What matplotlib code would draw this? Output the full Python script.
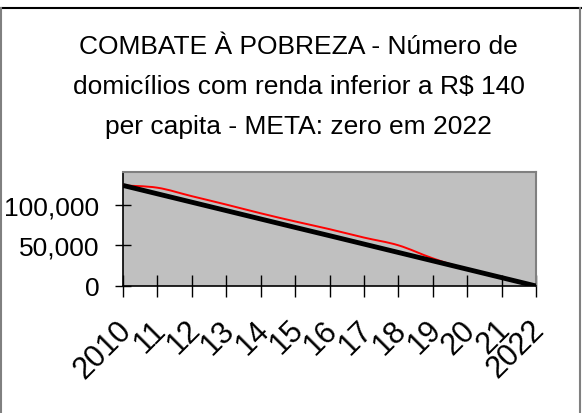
import matplotlib
matplotlib.use("Agg")
import matplotlib.pyplot as plt
from matplotlib.path import Path
from matplotlib.patches import PathPatch
from matplotlib.lines import Line2D
import matplotlib.transforms as mtransforms
import numpy as np

plt.rcParams['font.family'] = ['Liberation Sans', 'DejaVu Sans']

anos = ["2010", "11", "12", "13", "14", "15", "16", "17", "18", "19", "20", "21", "2022"]
# domicilios com renda inferior a R$ 140 per capita (realizado)
realizado = [123500, 120700, 110300, 100000, 89300, 79300, 69800, 59500, 50000, 34000, 20600, 10300, 0]
# meta: trajetoria ate zero em 2022
meta = [123500, 113200, 102900, 92600, 82300, 72000, 61800, 51500, 41200, 30900, 20600, 10300, 0]
titulo = "COMBATE À POBREZA - Número de\ndomicílios com renda inferior a R$ 140\nper capita - META: zero em 2022"


def smooth_path(xs, ys):
    # excel-like smoothed line: cubic bezier segments through the points
    xs = np.asarray(xs, float)
    ys = np.asarray(ys, float)
    n = len(xs)
    verts = [(xs[0], ys[0])]
    codes = [Path.MOVETO]
    for i in range(n - 1):
        p0 = i - 1 if i > 0 else i
        p3 = i + 2 if i + 2 < n else i + 1
        c1 = (xs[i] + (xs[i + 1] - xs[p0]) / 6, ys[i] + (ys[i + 1] - ys[p0]) / 6)
        c2 = (xs[i + 1] - (xs[p3] - xs[i]) / 6, ys[i + 1] - (ys[p3] - ys[i]) / 6)
        verts += [c1, c2, (xs[i + 1], ys[i + 1])]
        codes += [Path.CURVE4] * 3
    return Path(verts, codes)


fig = plt.figure(figsize=(5.82, 4.14), dpi=100)
ax = fig.add_axes([123 / 582, 1 - 287 / 414, (536 - 123) / 582, (287 - 173) / 414])
ax.set_facecolor("#c0c0c0")

x = np.arange(len(anos))
ax.add_patch(PathPatch(smooth_path(x, realizado), facecolor="none", edgecolor="#ff0000",
                       lw=1.4, zorder=3, capstyle="butt"))
ax.plot(x, meta, color="black", lw=3.5, zorder=4, solid_capstyle="butt")

ax.set_xlim(0, len(anos) - 1)
ax.set_ylim(0, 140000)
ax.set_yticks([0, 50000, 100000])
ax.set_yticklabels(["0", "50,000", "100,000"], fontsize=19)
ax.set_xticks(x)
ax.set_xticklabels(anos, fontsize=22, rotation=45, ha="right", va="center",
                   rotation_mode="anchor")
ax.tick_params(axis="y", direction="inout", length=12, width=1, pad=11)
ax.tick_params(axis="x", direction="inout", length=16, width=1, pad=20)
shift = mtransforms.ScaledTranslation(4 / 100, 0, fig.dpi_scale_trans)
for lab in ax.get_xticklabels():
    lab.set_transform(lab.get_transform() + shift)

for s in ["top", "right"]:
    ax.spines[s].set_color("#808080")
    ax.spines[s].set_linewidth(1.5)
for s in ["left", "bottom"]:
    ax.spines[s].set_color("black")
    ax.spines[s].set_linewidth(1.2)

fig.text(0.513, 1 - 35 / 414, titulo, ha="center", va="top", fontsize=19,
         linespacing=1.85)

# chart area border
fig.add_artist(Line2D([0, 1], [1 - 8.5 / 414, 1 - 8.5 / 414], transform=fig.transFigure,
                      color="black", lw=1.5))
fig.add_artist(Line2D([0.8 / 582, 0.8 / 582], [0, 1 - 8.5 / 414], transform=fig.transFigure,
                      color="#808080", lw=1.5))
fig.add_artist(Line2D([579.5 / 582, 579.5 / 582], [0, 1 - 8.5 / 414], transform=fig.transFigure,
                      color="#808080", lw=1.5))

fig.savefig("out.png", dpi=100)
